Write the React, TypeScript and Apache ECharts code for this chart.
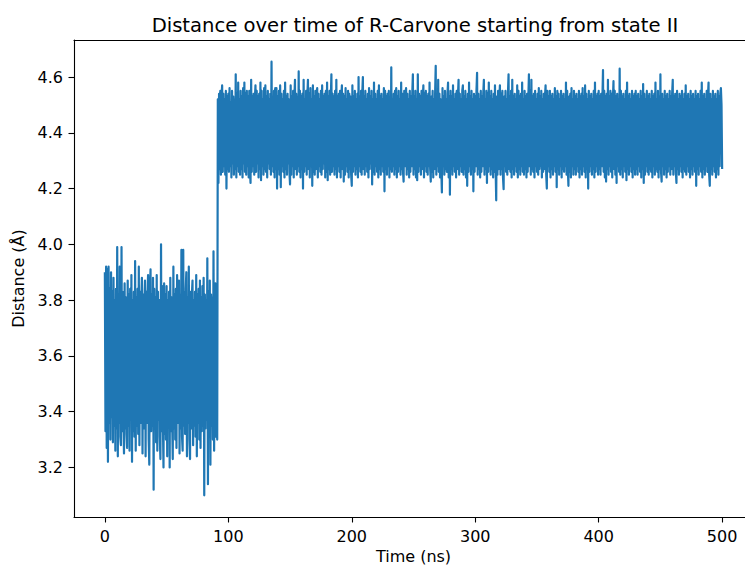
import React, { useEffect, useRef } from "react";
import * as echarts from "echarts";

// Sampling interval of the trajectory (ns between successive frames)
const SAMPLE_STEP_NS = 0.5;

// State I segment: t = 0 ... 91 ns (distance in Å)
const stateIDistance: number[] = [
  // t 0 - 9.5
  3.90, 3.33, 3.92, 3.27, 3.91, 3.22, 3.92, 3.36, 3.84, 3.30, 3.90, 3.38, 3.83, 3.29, 3.88, 3.35, 3.80, 3.26, 3.84, 3.34,
  // t 10 - 19.5
  3.99, 3.24, 3.82, 3.36, 3.92, 3.31, 3.28, 3.99, 3.33, 3.83, 3.38, 3.25, 3.86, 3.34, 3.81, 3.32, 3.27, 3.87, 3.35, 3.82,
  // t 20 - 29.5
  3.26, 3.84, 3.37, 3.89, 3.22, 3.80, 3.33, 3.83, 3.31, 3.94, 3.26, 3.81, 3.35, 3.84, 3.32, 3.92, 3.28, 3.83, 3.36, 3.80,
  // t 30 - 39.5
  3.88, 3.25, 3.82, 3.34, 3.79, 3.87, 3.24, 3.83, 3.36, 3.81, 3.89, 3.30, 3.21, 3.84, 3.91, 3.33, 3.82, 3.35, 3.88, 3.12,
  // t 40 - 49.5
  3.84, 3.34, 3.81, 3.29, 3.89, 3.26, 3.83, 3.37, 3.80, 3.31, 3.23, 4.00, 3.33, 3.85, 3.36, 3.20, 3.86, 3.32, 3.82, 3.30,
  // t 50 - 59.5
  3.85, 3.24, 3.80, 3.35, 3.83, 3.20, 3.88, 3.33, 3.81, 3.37, 3.23, 3.92, 3.34, 3.82, 3.30, 3.84, 3.27, 3.89, 3.36, 3.81,
  // t 60 - 69.5
  3.87, 3.25, 3.82, 3.34, 3.98, 3.31, 3.26, 3.98, 3.35, 3.83, 3.32, 3.84, 3.90, 3.24, 3.81, 3.36, 3.92, 3.30, 3.23, 3.83,
  // t 70 - 79.5
  3.34, 3.82, 3.87, 3.28, 3.80, 3.35, 3.83, 3.31, 3.89, 3.24, 3.82, 3.36, 3.84, 3.30, 3.87, 3.27, 3.81, 3.33, 3.85, 3.35,
  // t 80 - 89.5
  3.88, 3.10, 3.82, 3.34, 3.80, 3.37, 3.95, 3.14, 3.83, 3.33, 3.87, 3.21, 3.82, 3.35, 3.81, 3.30, 3.975, 3.26, 3.84, 3.86,
  // t 90 - 91
  3.31, 3.83, 3.30,
];

// State II segment: t = 91.5 ... 500 ns (distance in Å)
const stateIIDistance: number[] = [
  // t 91.5 - 99.5
  4.52, 4.22, 4.54, 4.27, 4.55, 4.25, 4.53, 4.57, 4.26, 4.54, 4.28, 4.52, 4.25, 4.55, 4.20, 4.53, 4.27,
  // t 100
  4.54, 4.26, 4.56, 4.28, 4.51, 4.24, 4.55, 4.29, 4.53, 4.25, 4.52, 4.27, 4.61, 4.24, 4.54, 4.28, 4.58, 4.26, 4.52, 4.25,
  // t 110
  4.55, 4.27, 4.53, 4.24, 4.56, 4.29, 4.58, 4.26, 4.54, 4.25, 4.55, 4.28, 4.53, 4.24, 4.55, 4.27, 4.22, 4.59, 4.26, 4.53,
  // t 120
  4.28, 4.54, 4.25, 4.52, 4.57, 4.26, 4.55, 4.29, 4.53, 4.24, 4.54, 4.27, 4.58, 4.23, 4.55, 4.28, 4.52, 4.25, 4.56, 4.27,
  // t 130
  4.57, 4.26, 4.53, 4.24, 4.55, 4.29, 4.52, 4.27, 4.54, 4.25, 4.655, 4.28, 4.53, 4.26, 4.55, 4.24, 4.56, 4.27, 4.56, 4.20,
  // t 140
  4.53, 4.27, 4.55, 4.25, 4.57, 4.205, 4.54, 4.28, 4.52, 4.26, 4.55, 4.24, 4.58, 4.27, 4.53, 4.25, 4.54, 4.29, 4.52, 4.26,
  // t 150
  4.215, 4.57, 4.25, 4.53, 4.28, 4.55, 4.24, 4.52, 4.59, 4.27, 4.54, 4.25, 4.53, 4.28, 4.62, 4.26, 4.55, 4.24, 4.53, 4.27,
  // t 160
  4.54, 4.20, 4.59, 4.26, 4.52, 4.28, 4.55, 4.25, 4.53, 4.59, 4.27, 4.54, 4.24, 4.56, 4.28, 4.52, 4.21, 4.57, 4.26, 4.53,
  // t 170
  4.25, 4.55, 4.27, 4.53, 4.56, 4.24, 4.54, 4.28, 4.52, 4.26, 4.55, 4.25, 4.57, 4.27, 4.53, 4.29, 4.54, 4.24, 4.55, 4.26,
  // t 180
  4.58, 4.23, 4.53, 4.27, 4.55, 4.25, 4.52, 4.61, 4.26, 4.54, 4.28, 4.53, 4.25, 4.55, 4.27, 4.59, 4.24, 4.53, 4.28, 4.54,
  // t 190
  4.26, 4.55, 4.24, 4.52, 4.57, 4.27, 4.54, 4.225, 4.53, 4.25, 4.56, 4.28, 4.52, 4.26, 4.55, 4.24, 4.54, 4.27, 4.53, 4.25,
  // t 200
  4.21, 4.57, 4.26, 4.53, 4.28, 4.55, 4.25, 4.52, 4.27, 4.54, 4.24, 4.60, 4.28, 4.53, 4.26, 4.55, 4.25, 4.54, 4.60, 4.27,
  // t 210
  4.53, 4.25, 4.55, 4.28, 4.52, 4.26, 4.54, 4.24, 4.56, 4.27, 4.53, 4.29, 4.55, 4.215, 4.52, 4.26, 4.58, 4.25, 4.54, 4.28,
  // t 220
  4.52, 4.26, 4.55, 4.24, 4.57, 4.27, 4.53, 4.25, 4.54, 4.28, 4.52, 4.26, 4.56, 4.19, 4.55, 4.27, 4.53, 4.25, 4.54, 4.28,
  // t 230
  4.55, 4.24, 4.53, 4.27, 4.635, 4.26, 4.52, 4.28, 4.54, 4.25, 4.55, 4.27, 4.56, 4.24, 4.53, 4.26, 4.55, 4.28, 4.52, 4.25,
  // t 240
  4.58, 4.27, 4.54, 4.26, 4.225, 4.55, 4.28, 4.53, 4.56, 4.25, 4.54, 4.27, 4.52, 4.24, 4.55, 4.26, 4.53, 4.28, 4.54, 4.61,
  // t 250
  4.25, 4.53, 4.27, 4.55, 4.24, 4.52, 4.23, 4.61, 4.26, 4.54, 4.28, 4.53, 4.25, 4.55, 4.27, 4.52, 4.57, 4.24, 4.54, 4.28,
  // t 260
  4.55, 4.26, 4.53, 4.25, 4.54, 4.28, 4.58, 4.27, 4.225, 4.53, 4.26, 4.55, 4.24, 4.52, 4.27, 4.54, 4.64, 4.25, 4.53, 4.28,
  // t 270
  4.59, 4.26, 4.54, 4.24, 4.52, 4.27, 4.186, 4.56, 4.28, 4.53, 4.25, 4.55, 4.27, 4.52, 4.26, 4.54, 4.58, 4.24, 4.53, 4.178,
  // t 280
  4.55, 4.27, 4.53, 4.25, 4.57, 4.28, 4.52, 4.26, 4.54, 4.24, 4.55, 4.27, 4.53, 4.59, 4.25, 4.54, 4.28, 4.52, 4.26, 4.55,
  // t 290
  4.57, 4.25, 4.53, 4.27, 4.55, 4.24, 4.52, 4.21, 4.54, 4.26, 4.58, 4.28, 4.53, 4.25, 4.55, 4.27, 4.52, 4.19, 4.54, 4.26,
  // t 300
  4.53, 4.28, 4.55, 4.615, 4.25, 4.54, 4.27, 4.52, 4.24, 4.55, 4.26, 4.53, 4.28, 4.54, 4.59, 4.25, 4.52, 4.27, 4.55, 4.22,
  // t 310
  4.54, 4.26, 4.58, 4.28, 4.53, 4.25, 4.55, 4.27, 4.52, 4.24, 4.54, 4.26, 4.57, 4.28, 4.158, 4.53, 4.25, 4.55, 4.27, 4.52,
  // t 320
  4.57, 4.25, 4.54, 4.27, 4.55, 4.24, 4.198, 4.53, 4.28, 4.55, 4.26, 4.52, 4.25, 4.54, 4.61, 4.27, 4.53, 4.26, 4.55, 4.24,
  // t 330
  4.59, 4.27, 4.53, 4.25, 4.54, 4.28, 4.52, 4.26, 4.57, 4.24, 4.55, 4.27, 4.53, 4.25, 4.54, 4.28, 4.58, 4.26, 4.52, 4.25,
  // t 340
  4.55, 4.27, 4.53, 4.24, 4.54, 4.26, 4.52, 4.61, 4.28, 4.55, 4.25, 4.59, 4.27, 4.53, 4.26, 4.54, 4.24, 4.55, 4.28, 4.52,
  // t 350
  4.26, 4.54, 4.25, 4.56, 4.27, 4.53, 4.28, 4.55, 4.24, 4.52, 4.26, 4.54, 4.27, 4.53, 4.57, 4.25, 4.20, 4.55, 4.28, 4.53,
  // t 360
  4.26, 4.55, 4.24, 4.53, 4.27, 4.54, 4.25, 4.52, 4.28, 4.56, 4.26, 4.53, 4.205, 4.55, 4.27, 4.54, 4.25, 4.52, 4.28, 4.55,
  // t 370
  4.24, 4.53, 4.27, 4.54, 4.26, 4.52, 4.28, 4.58, 4.25, 4.55, 4.27, 4.21, 4.53, 4.26, 4.54, 4.24, 4.56, 4.28, 4.52, 4.25,
  // t 380
  4.55, 4.27, 4.53, 4.25, 4.54, 4.28, 4.52, 4.26, 4.55, 4.24, 4.53, 4.27, 4.54, 4.25, 4.56, 4.28, 4.53, 4.26, 4.57, 4.24,
  // t 390
  4.54, 4.27, 4.52, 4.20, 4.55, 4.26, 4.53, 4.28, 4.54, 4.25, 4.52, 4.27, 4.55, 4.24, 4.58, 4.26, 4.53, 4.28, 4.54, 4.25,
  // t 400
  4.55, 4.27, 4.53, 4.25, 4.54, 4.28, 4.52, 4.625, 4.26, 4.55, 4.24, 4.53, 4.225, 4.54, 4.27, 4.59, 4.25, 4.53, 4.28, 4.55,
  // t 410
  4.26, 4.54, 4.24, 4.52, 4.585, 4.27, 4.55, 4.25, 4.53, 4.22, 4.54, 4.28, 4.52, 4.26, 4.63, 4.25, 4.55, 4.27, 4.53, 4.24,
  // t 420
  4.54, 4.28, 4.52, 4.26, 4.55, 4.23, 4.58, 4.27, 4.53, 4.25, 4.54, 4.28, 4.52, 4.26, 4.55, 4.24, 4.53, 4.27, 4.54, 4.25,
  // t 430
  4.55, 4.27, 4.53, 4.25, 4.54, 4.28, 4.52, 4.26, 4.55, 4.24, 4.53, 4.27, 4.575, 4.22, 4.54, 4.25, 4.52, 4.28, 4.55, 4.26,
  // t 440
  4.53, 4.25, 4.54, 4.27, 4.52, 4.26, 4.55, 4.24, 4.53, 4.28, 4.54, 4.25, 4.58, 4.27, 4.52, 4.26, 4.55, 4.24, 4.53, 4.27,
  // t 450
  4.61, 4.26, 4.225, 4.54, 4.28, 4.52, 4.25, 4.55, 4.27, 4.53, 4.24, 4.54, 4.26, 4.52, 4.28, 4.55, 4.25, 4.53, 4.27, 4.54,
  // t 460
  4.59, 4.25, 4.53, 4.28, 4.54, 4.26, 4.22, 4.55, 4.27, 4.52, 4.25, 4.54, 4.28, 4.53, 4.26, 4.55, 4.24, 4.52, 4.27, 4.54,
  // t 470
  4.26, 4.57, 4.25, 4.53, 4.28, 4.54, 4.26, 4.52, 4.24, 4.55, 4.27, 4.53, 4.25, 4.54, 4.28, 4.52, 4.26, 4.55, 4.21, 4.53,
  // t 480
  4.27, 4.54, 4.25, 4.52, 4.28, 4.55, 4.26, 4.58, 4.24, 4.53, 4.27, 4.54, 4.25, 4.52, 4.28, 4.55, 4.26, 4.53, 4.58, 4.25,
  // t 490
  4.21, 4.54, 4.27, 4.52, 4.25, 4.55, 4.28, 4.53, 4.26, 4.54, 4.24, 4.52, 4.27, 4.55, 4.25, 4.53, 4.28, 4.54, 4.56, 4.50,
  // t 500
  4.27,
];

const xTickValues = [0, 100, 200, 300, 400, 500];
const yTickValues = [3.2, 3.4, 3.6, 3.8, 4.0, 4.2, 4.4, 4.6];

const TITLE = "Distance over time of R-Carvone starting from state II";
const X_NAME = "Time (ns)";
const Y_NAME = "Distance (Å)";

const FONT = "DejaVu Sans";

export default function App() {
  const ref = useRef<HTMLDivElement | null>(null);

  useEffect(() => {
    document.body.style.margin = "0";
    if (!ref.current) return;
    const chart = echarts.init(ref.current, undefined, { renderer: "svg" });

    const distance = [...stateIDistance, ...stateIIDistance];
    const seriesData = distance.map((v, i) => [i * SAMPLE_STEP_NS, v]);
    const times = seriesData.map((d) => d[0]);

    const xMinD = Math.min(...times);
    const xMaxD = Math.max(...times);
    const yMinD = Math.min(...distance);
    const yMaxD = Math.max(...distance);
    const xPad = (xMaxD - xMinD) * 0.05;
    const yPad = (yMaxD - yMinD) * 0.05;
    const xMin = xMinD - xPad;
    const xMax = xMaxD + xPad;

    const spineStyle = { color: "#000", width: 1.1 };
    const labelStyle = {
      color: "#000",
      fontFamily: FONT,
      fontSize: 16,
    };

    chart.setOption({
      animation: false,
      title: {
        text: TITLE,
        left: 410,
        top: 10,
        textAlign: "center",
        textStyle: {
          fontFamily: FONT,
          fontSize: 19.6,
          fontWeight: "normal",
          color: "#000",
        },
      },
      grid: {
        left: 74,
        right: 0,
        top: 40,
        bottom: 48,
        show: false,
        containLabel: false,
        outerBoundsMode: "none",
      },
      xAxis: [
        {
          type: "value",
          position: "bottom",
          min: xMin,
          max: xMax,
          name: X_NAME,
          nameLocation: "middle",
          nameGap: 31,
          nameTextStyle: { ...labelStyle },
          axisLine: { show: true, onZero: false, lineStyle: spineStyle },
          axisTick: {
            show: true,
            length: 5.5,
            lineStyle: spineStyle,
            customValues: xTickValues,
          },
          axisLabel: {
            ...labelStyle,
            margin: 11,
            customValues: xTickValues,
            formatter: (v: number) => String(v),
          },
          splitLine: { show: false },
        },
        {
          // top spine only
          type: "value",
          position: "top",
          min: xMin,
          max: xMax,
          axisLine: { show: true, onZero: false, lineStyle: spineStyle },
          axisTick: { show: false },
          axisLabel: { show: false },
          splitLine: { show: false },
        },
      ],
      yAxis: {
        type: "value",
        min: yMinD - yPad,
        max: yMaxD + yPad,
        name: Y_NAME,
        nameLocation: "middle",
        nameGap: 44,
        nameRotate: 90,
        nameTextStyle: { ...labelStyle },
        axisLine: { show: true, onZero: false, lineStyle: spineStyle },
        axisTick: {
          show: true,
          length: 5.5,
          lineStyle: spineStyle,
          customValues: yTickValues,
        },
        axisLabel: {
          ...labelStyle,
          margin: 11,
          customValues: yTickValues,
          formatter: (v: number) => v.toFixed(1),
        },
        splitLine: { show: false },
      },
      series: [
        {
          type: "line",
          xAxisIndex: 0,
          data: seriesData,
          showSymbol: false,
          symbol: "none",
          lineStyle: { color: "#1f77b4", width: 2.2, join: "round", cap: "butt" },
          itemStyle: { color: "#1f77b4" },
          silent: true,
          clip: true,
        },
      ],
    });

    return () => {
      chart.dispose();
    };
  }, []);

  return (
    <div
      style={{
        position: "absolute",
        left: 0,
        top: 0,
        width: 745,
        height: 565,
        overflow: "hidden",
      }}
    >
      <div ref={ref} style={{ width: 753, height: 565 }} />
    </div>
  );
}
